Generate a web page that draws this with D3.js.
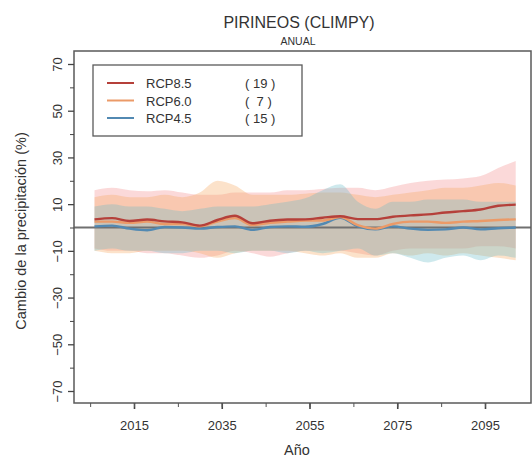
<!DOCTYPE html>
<html>
<head>
<meta charset="utf-8">
<script src="https://cdn.jsdelivr.net/npm/d3@7"></script>
<style>
  body { margin: 0; background: #fff; }
  text { font-family: "Liberation Sans", Arial, sans-serif; fill: #333; }
</style>
</head>
<body>
<div id="chart-area"></div>
<script>
// years (4-year steps) and values
const years = [2006, 2010, 2014, 2018, 2022, 2026, 2030, 2034, 2038, 2042, 2046, 2050, 2054,
  2058, 2062, 2066, 2070, 2074, 2078, 2082, 2086, 2090, 2094, 2098, 2102];

const rcp85Mean = [3.5, 4.0, 2.8, 3.4, 2.6, 2.2, 0.8, 3.2, 5.0, 1.8, 2.9, 3.4, 3.5,
  4.2, 4.8, 3.6, 3.6, 4.6, 5.2, 5.6, 6.4, 7.0, 7.7, 9.3, 9.8];
const rcp85Upper = [16, 17, 16, 15.5, 16, 15, 14, 14, 15, 15, 15, 16, 16,
  16.5, 17, 17, 16, 17.5, 19, 20, 20.5, 21, 22, 25.5, 28.5];
const rcp85Lower = [-9, -10, -10, -11, -11, -12, -13, -12, -10, -11, -12.5, -11, -10,
  -10, -10, -11, -12, -10, -9, -9, -9, -9, -8, -8, -9];

const rcp60Mean = [2.5, 2.5, 2.0, 2.5, 1.5, 1.5, 0.5, 2.5, 4.0, 1.0, 2.0, 2.5, 3.0,
  3.0, 4.5, 1.0, -0.5, 1.5, 2.5, 2.5, 2.0, 2.5, 2.8, 3.2, 3.5];
const rcp60Upper = [13, 14, 13, 13, 14, 13, 15, 20, 18, 14, 14, 14, 14.5,
  15, 15, 14, 13, 14, 15, 16, 17, 17, 18, 19, 18];
const rcp60Lower = [-10, -11, -11, -10, -10, -10, -11, -13, -11, -10, -10, -10, -11,
  -12, -11, -13, -13, -11, -12, -11, -12, -11, -12, -13, -14];

const rcp45Mean = [0.5, 0.8, -0.5, -1.2, 0.2, 0, -0.5, 0.2, 0.5, -1.0, 0.2, 0.5, 0.3,
  1.5, 4.2, 0.5, -0.8, 0.5, -0.5, -1.0, -0.8, 0.0, -0.8, -0.3, 0.0];
const rcp45Upper = [9, 10, 9, 9, 8, 7, 8, 9, 9, 9, 10, 11, 12.5,
  16, 18.5, 11, 8, 11, 11, 12, 12, 12, 11, 11, 11];
const rcp45Lower = [-10, -9, -10, -10, -11, -11, -10, -10, -11, -10, -10, -11, -10,
  -11, -10, -9, -12, -11, -13, -15, -13, -12, -14, -12, -13];

const seriesNames = ["RCP8.5", "RCP6.0", "RCP4.5"];
const modelCounts = ["( 19 )", "(  7 )", "( 15 )"];

const yTicks = [70, 50, 30, 10, -10, -30, -50, -70];
const xTicks = [2015, 2035, 2055, 2075, 2095];

const series = [
  { name: seriesNames[0], mean: rcp85Mean, upper: rcp85Upper, lower: rcp85Lower,
    line: "#b5403a", fill: "#f28a8a", count: modelCounts[0] },
  { name: seriesNames[1], mean: rcp60Mean, upper: rcp60Upper, lower: rcp60Lower,
    line: "#eb9a68", fill: "#f6a45a", count: modelCounts[1] },
  { name: seriesNames[2], mean: rcp45Mean, upper: rcp45Upper, lower: rcp45Lower,
    line: "#5289b2", fill: "#68bcc8", count: modelCounts[2] }
];

const width = 532, height = 460;
const box = { left: 74, right: 531, top: 51, bottom: 403 };

const svg = d3.select("#chart-area")
  .append("svg")
    .attr("width", width)
    .attr("height", height);

const x = d3.scaleLinear().domain([2015, 2095]).range([134, 485]);
const y = d3.scaleLinear().domain([-70, 70]).range([391, 64]);

// bands
series.forEach((s) => {
  const area = d3.area()
    .x((d, i) => x(years[i]))
    .y0((d, i) => y(s.lower[i]))
    .y1((d, i) => y(s.upper[i]))
    .curve(d3.curveMonotoneX);
  svg.append("path")
    .datum(years)
    .attr("d", area)
    .attr("fill", s.fill)
    .attr("fill-opacity", 0.32);
});

// zero line
svg.append("line")
  .attr("x1", box.left).attr("x2", box.right)
  .attr("y1", y(0)).attr("y2", y(0))
  .attr("stroke", "#707070")
  .attr("stroke-width", 1.8);

// mean lines
series.slice().reverse().forEach((s) => {
  const line = d3.line()
    .x((d, i) => x(years[i]))
    .y((d, i) => y(s.mean[i]))
    .curve(d3.curveMonotoneX);
  svg.append("path")
    .datum(years)
    .attr("d", line)
    .attr("fill", "none")
    .attr("stroke", s.line)
    .attr("stroke-width", 2.4);
});

// frame
svg.append("rect")
  .attr("x", box.left).attr("y", box.top)
  .attr("width", box.right - box.left).attr("height", box.bottom - box.top)
  .attr("fill", "none")
  .attr("stroke", "#5a5a5a")
  .attr("stroke-width", 1.5);

// y axis
const yAxis = d3.axisLeft(y)
  .tickValues(yTicks)
  .tickSize(6)
  .tickFormat(d3.format("d"));
const gy = svg.append("g")
  .attr("transform", "translate(" + box.left + ",0)")
  .call(yAxis);
gy.select(".domain").remove();
gy.selectAll("line").attr("stroke", "#444").attr("stroke-width", 1.3);
gy.selectAll("text")
  .attr("font-size", "13px")
  .attr("fill", "#333")
  .attr("text-anchor", "middle")
  .attr("x", null)
  .attr("transform", "translate(-17,0) rotate(-90)")
  .attr("dy", "0.35em");

const yMinor = d3.axisLeft(y)
  .tickValues([60, 40, 20, 0, -20, -40, -60])
  .tickSize(4)
  .tickFormat("");
const gym = svg.append("g")
  .attr("transform", "translate(" + box.left + ",0)")
  .call(yMinor);
gym.select(".domain").remove();
gym.selectAll("line").attr("stroke", "#444");

// x axis
const xAxis = d3.axisBottom(x)
  .tickValues(xTicks)
  .tickSize(6)
  .tickFormat(d3.format("d"));
const gx = svg.append("g")
  .attr("transform", "translate(0," + box.bottom + ")")
  .call(xAxis);
gx.select(".domain").remove();
gx.selectAll("line").attr("stroke", "#444").attr("stroke-width", 1.6);
gx.selectAll("text")
  .attr("font-size", "13px")
  .attr("fill", "#333")
  .attr("y", 18);

const xMinor = d3.axisBottom(x)
  .tickValues(d3.range(2005, 2105, 10))
  .tickSize(4)
  .tickFormat("");
const gxm = svg.append("g")
  .attr("transform", "translate(0," + box.bottom + ")")
  .call(xMinor);
gxm.select(".domain").remove();
gxm.selectAll("line").attr("stroke", "#555");

// titles
svg.append("text")
  .attr("x", 299).attr("y", 28)
  .attr("text-anchor", "middle")
  .attr("font-size", "16px")
  .text("PIRINEOS (CLIMPY)");

svg.append("text")
  .attr("x", 298).attr("y", 45)
  .attr("text-anchor", "middle")
  .attr("font-size", "10.5px")
  .text("ANUAL");

svg.append("text")
  .attr("x", 297).attr("y", 455)
  .attr("text-anchor", "middle")
  .attr("font-size", "14.5px")
  .text("Año");

svg.append("text")
  .attr("transform", "translate(26,231) rotate(-90)")
  .attr("text-anchor", "middle")
  .attr("font-size", "14.5px")
  .text("Cambio de la precipitación (%)");

// legend
const legend = svg.append("g");
legend.append("rect")
  .attr("x", 93).attr("y", 65)
  .attr("width", 209).attr("height", 71)
  .attr("fill", "#fff")
  .attr("stroke", "#5a5a5a")
  .attr("stroke-width", 1.3);

series.forEach((s, i) => {
  const ly = 83 + i * 17.5;
  legend.append("line")
    .attr("x1", 107).attr("x2", 134)
    .attr("y1", ly).attr("y2", ly)
    .attr("stroke", s.line)
    .attr("stroke-width", 2);
  legend.append("text")
    .attr("x", 146).attr("y", ly + 5)
    .attr("font-size", "13px")
    .text(s.name);
  legend.append("text")
    .attr("x", 245).attr("y", ly + 5)
    .attr("font-size", "13px")
    .style("white-space", "pre")
    .text(s.count);
});
</script>
</body>
</html>
